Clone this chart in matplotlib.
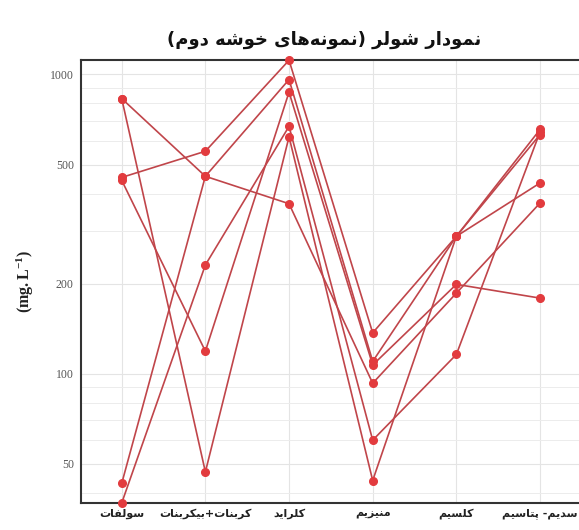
import matplotlib
matplotlib.use("Agg")
import matplotlib.pyplot as plt
from matplotlib.ticker import FixedLocator, NullFormatter, LogLocator

# ---------------- data ----------------
categories = ["سولفات", "کربنات+بیکربنات", "کلراید", "منیزیم", "کلسیم", "سدیم- پتاسیم"]
title_text = "نمودار شولر (نمونه‌های خوشه دوم)"
ytick_values = [50, 100, 200, 500, 1000]
ytick_labels = ["50", "100", "200", "500", "1000"]

sample_1 = [831, 457, 370, 93, 186, 372]
sample_2 = [831, 47, 619, 44, 288, 434]
sample_3 = [453, 554, 1116, 137, 288, 655]
sample_4 = [443, 119, 873, 107, 199, 179]
sample_5 = [43, 457, 962, 110, 288, 630]
sample_6 = [37, 231, 671, 60, 116, 643]
samples = [sample_1, sample_2, sample_3, sample_4, sample_5, sample_6]

# ---------------- simple Persian shaping ----------------
FORMS = {
    '\u0627': (0xFE8D, 0xFE8E, None, None), '\u0622': (0xFE81, 0xFE82, None, None),
    '\u0628': (0xFE8F, 0xFE90, 0xFE91, 0xFE92), '\u062A': (0xFE95, 0xFE96, 0xFE97, 0xFE98),
    '\u062B': (0xFE99, 0xFE9A, 0xFE9B, 0xFE9C), '\u062C': (0xFE9D, 0xFE9E, 0xFE9F, 0xFEA0),
    '\u062D': (0xFEA1, 0xFEA2, 0xFEA3, 0xFEA4), '\u062E': (0xFEA5, 0xFEA6, 0xFEA7, 0xFEA8),
    '\u062F': (0xFEA9, 0xFEAA, None, None), '\u0630': (0xFEAB, 0xFEAC, None, None),
    '\u0631': (0xFEAD, 0xFEAE, None, None), '\u0632': (0xFEAF, 0xFEB0, None, None),
    '\u0633': (0xFEB1, 0xFEB2, 0xFEB3, 0xFEB4), '\u0634': (0xFEB5, 0xFEB6, 0xFEB7, 0xFEB8),
    '\u0635': (0xFEB9, 0xFEBA, 0xFEBB, 0xFEBC), '\u0636': (0xFEBD, 0xFEBE, 0xFEBF, 0xFEC0),
    '\u0637': (0xFEC1, 0xFEC2, 0xFEC3, 0xFEC4), '\u0638': (0xFEC5, 0xFEC6, 0xFEC7, 0xFEC8),
    '\u0639': (0xFEC9, 0xFECA, 0xFECB, 0xFECC), '\u063A': (0xFECD, 0xFECE, 0xFECF, 0xFED0),
    '\u0641': (0xFED1, 0xFED2, 0xFED3, 0xFED4), '\u0642': (0xFED5, 0xFED6, 0xFED7, 0xFED8),
    '\u0643': (0xFED9, 0xFEDA, 0xFEDB, 0xFEDC), '\u0644': (0xFEDD, 0xFEDE, 0xFEDF, 0xFEE0),
    '\u0645': (0xFEE1, 0xFEE2, 0xFEE3, 0xFEE4), '\u0646': (0xFEE5, 0xFEE6, 0xFEE7, 0xFEE8),
    '\u0647': (0xFEE9, 0xFEEA, 0xFEEB, 0xFEEC), '\u0648': (0xFEED, 0xFEEE, None, None),
    '\u064A': (0xFEF1, 0xFEF2, 0xFEF3, 0xFEF4),
    '\u067E': (0xFB56, 0xFB57, 0xFB58, 0xFB59), '\u0686': (0xFB7A, 0xFB7B, 0xFB7C, 0xFB7D),
    '\u0698': (0xFB8A, 0xFB8B, None, None), '\u06A9': (0xFB8E, 0xFB8F, 0xFB90, 0xFB91),
    '\u06AF': (0xFB92, 0xFB93, 0xFB94, 0xFB95), '\u06CC': (0xFBFC, 0xFBFD, 0xFBFE, 0xFBFF),
}


def jtype(c):
    if c in FORMS:
        return 'D' if FORMS[c][2] is not None else 'R'
    return 'U'


def shape(text):
    out = []
    for i, c in enumerate(text):
        if c not in FORMS:
            out.append(c)
            continue
        prev = text[i - 1] if i > 0 else None
        nxt = text[i + 1] if i + 1 < len(text) else None
        jp = prev is not None and jtype(prev) == 'D'
        jn = jtype(c) == 'D' and nxt is not None and jtype(nxt) in ('D', 'R')
        f = FORMS[c]
        if jp and jn:
            code = f[3]
        elif jp:
            code = f[1]
        elif jn:
            code = f[2]
        else:
            code = f[0]
        out.append(chr(code))
    s = ''.join(ch for ch in out if ch != '\u200c')
    mirror = {'(': ')', ')': '('}
    return ''.join(mirror.get(ch, ch) for ch in reversed(s))


# ---------------- figure ----------------
plt.rcParams['mathtext.fontset'] = 'custom'
plt.rcParams['mathtext.rm'] = 'Liberation Serif'
plt.rcParams['mathtext.bf'] = 'Liberation Serif:bold'

fig = plt.figure(figsize=(5.79, 5.30), dpi=100)
fig.patch.set_facecolor('white')
ax = fig.add_axes([0.1394, 0.0509, 0.8641, 0.8359])

x = list(range(len(categories)))
for s in samples:
    ax.plot(x, s, color='#c0454a', lw=1.2, zorder=3, clip_on=False)
    ax.plot(x, s, ls='none', marker='o', ms=5.5, mfc='#e23b3e', mec='#e23b3e',
            zorder=4, clip_on=False)

ax.set_yscale('log')
ax.set_ylim(37, 1118)
ax.set_xlim(-0.49, 5.49)

ax.yaxis.set_major_locator(FixedLocator(ytick_values))
ax.set_yticklabels(ytick_labels, fontfamily='Liberation Serif', fontsize=8.5, color='#555555')
ax.yaxis.set_minor_locator(LogLocator(base=10, subs=range(2, 10)))
ax.yaxis.set_minor_formatter(NullFormatter())
ax.tick_params(axis='y', which='both', length=0, pad=5)

ax.set_xticks(x)
ax.set_xticklabels([shape(c) for c in categories], fontfamily='DejaVu Sans',
                   fontweight='bold', fontsize=8, color='#222222')
ax.tick_params(axis='x', length=0, pad=4)

ax.grid(True, which='major', axis='both', color='#e4e4e4', lw=0.8, zorder=0)
ax.grid(True, which='minor', axis='y', color='#ececec', lw=0.7, zorder=0)
ax.set_axisbelow(True)

for side in ['left', 'top', 'bottom', 'right']:
    ax.spines[side].set_color('#333333')
    ax.spines[side].set_linewidth(1.5)

ax.set_ylabel(r'$\mathbf{(mg.L^{-1})}$', fontsize=11.5, color='#222222', labelpad=10)

fig.text(0.56, 0.925, shape(title_text), ha='center', va='center',
         fontfamily='DejaVu Sans', fontweight='bold', fontsize=13, color='#111111')

fig.savefig('out.png', dpi=100, facecolor='white')
